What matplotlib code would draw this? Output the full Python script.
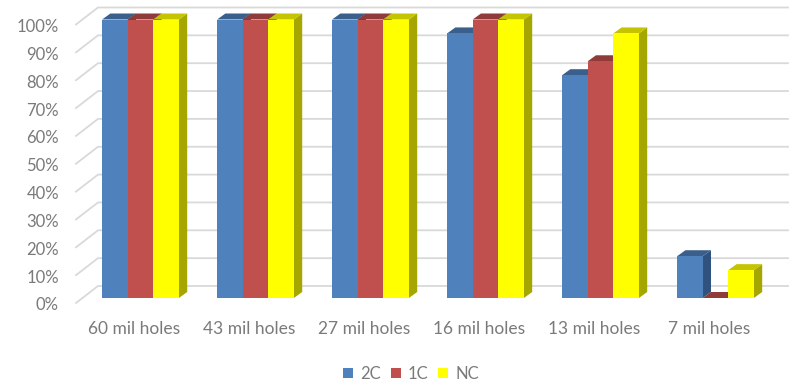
import matplotlib
matplotlib.use("Agg")
import matplotlib.pyplot as plt
from matplotlib.patches import Patch

categories = ["60 mil holes", "43 mil holes", "27 mil holes", "16 mil holes", "13 mil holes", "7 mil holes"]
values_2c = [100, 100, 100, 95, 80, 15]
values_1c = [100, 100, 100, 100, 85, 0]
values_nc = [100, 100, 100, 100, 95, 10]
series_names = ["2C", "1C", "NC"]
y_ticks = list(range(0, 101, 10))

# front, top and side shades for each series
front_colors = ["#4F81BD", "#C0504D", "#FFFF00"]
top_colors = ["#3A5F8C", "#8E3B39", "#C4C400"]
side_colors = ["#30527F", "#7E3230", "#A6A600"]
text_color = "#7A7A7A"
grid_color = "#D9D9D9"

W, H = 794, 382
GROUP_PX = 115.0     # distance between groups
Y_PX = 2.785         # pixels per percent
X0_PX, Y0_PX = 140.5, 298.0   # first group centre, baseline

fig = plt.figure(figsize=(W / 100, H / 100), dpi=100)
ax = fig.add_axes([0, 0, 1, 1])
ax.set_xlim(-X0_PX / GROUP_PX, (W - X0_PX) / GROUP_PX)
ax.set_ylim((Y0_PX - H) / Y_PX, Y0_PX / Y_PX)
ax.axis("off")

def px_x(p):
    return p / GROUP_PX

def px_y(p):
    return p / Y_PX

# wall gridlines with their short diagonal on the left
for t in y_ticks:
    y_front = t - px_y(5)
    y_back = t + px_y(12)
    ax.plot([px_x(76 - X0_PX), px_x(98 - X0_PX), px_x(788 - X0_PX)],
            [y_front, y_back, y_back], color=grid_color, lw=1.3, zorder=1,
            solid_joinstyle="miter")
    ax.text(px_x(59 - X0_PX), y_front - px_y(2.5), f"{t}%", ha="right", va="center",
            fontsize=12, family="Lato", color=text_color)

# 3D look: each bar gets a depth offset for its top and right faces
bar_w = 25.6 / GROUP_PX
dx, dy = px_x(8.3), px_y(6)
offsets = [-bar_w, 0, bar_w]
all_values = [values_2c, values_1c, values_nc]

z = 2
for i in range(len(categories)):
    for s, vals in enumerate(all_values):
        xc = i + offsets[s]
        left, right = xc - bar_w / 2, xc + bar_w / 2
        v = vals[i]
        ax.fill([right, right + dx, right + dx, right],
                [0, dy, v + dy, v], color=side_colors[s], lw=0, zorder=z)
        ax.fill([left, left + dx, right + dx, right],
                [v, v + dy, v + dy, v], color=top_colors[s], lw=0, zorder=z + 0.1)
        ax.bar(xc, v, width=bar_w, color=front_colors[s], lw=0, zorder=z + 0.2)
        z += 1

for i, name in enumerate(categories):
    ax.text(i - px_x(6.5), px_y(Y0_PX - 329), name, ha="center", va="center",
            fontsize=12.5, family="Lato", color=text_color)

handles = [Patch(facecolor=c, label=n) for c, n in zip(front_colors, series_names)]
ax.legend(handles=handles, loc="center", bbox_to_anchor=(411 / W, 1 - 374 / H),
          ncol=3, frameon=False, handlelength=0.6, handleheight=0.6,
          handletextpad=0.42, columnspacing=0.6,
          prop={"family": "Lato", "size": 12}, labelcolor=text_color)

fig.savefig("out.png", dpi=100)
